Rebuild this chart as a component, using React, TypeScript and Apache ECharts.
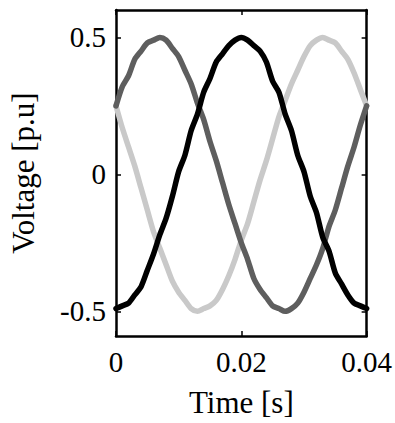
import React, { useEffect, useRef } from "react";
import * as echarts from "echarts";

// Time axis (s), samples every 1 ms
const time: number[] = [
  0, 0.001, 0.002, 0.003, 0.004, 0.005, 0.006, 0.007, 0.008, 0.009,
  0.01, 0.011, 0.012, 0.013, 0.014, 0.015, 0.016, 0.017, 0.018, 0.019,
  0.02, 0.021, 0.022, 0.023, 0.024, 0.025, 0.026, 0.027, 0.028, 0.029,
  0.03, 0.031, 0.032, 0.033, 0.034, 0.035, 0.036, 0.037, 0.038, 0.039, 0.04,
];

// Phase voltages [p.u]
const phaseBlack: number[] = [
  -0.49, -0.48, -0.47, -0.44, -0.41, -0.35, -0.29, -0.22, -0.16, -0.08,
  0.01, 0.07, 0.16, 0.22, 0.30, 0.35, 0.41, 0.44, 0.47, 0.49,
  0.50, 0.49, 0.47, 0.45, 0.41, 0.34, 0.30, 0.22, 0.16, 0.07,
  0.01, -0.08, -0.14, -0.23, -0.28, -0.36, -0.40, -0.44, -0.47, -0.48, -0.49,
];
const phaseDark: number[] = [
  0.25, 0.32, 0.36, 0.42, 0.45, 0.48, 0.49, 0.50, 0.49, 0.46,
  0.43, 0.38, 0.33, 0.26, 0.20, 0.12, 0.05, -0.03, -0.11, -0.18,
  -0.25, -0.31, -0.38, -0.42, -0.45, -0.48, -0.49, -0.50, -0.49, -0.47,
  -0.43, -0.38, -0.33, -0.27, -0.19, -0.13, -0.05, 0.03, 0.10, 0.18, 0.25,
];
const phaseLight: number[] = [
  0.25, 0.17, 0.10, 0.03, -0.05, -0.13, -0.21, -0.27, -0.33, -0.39,
  -0.43, -0.46, -0.49, -0.50, -0.49, -0.48, -0.46, -0.42, -0.37, -0.31,
  -0.24, -0.18, -0.10, -0.02, 0.05, 0.13, 0.21, 0.27, 0.33, 0.38,
  0.43, 0.47, 0.49, 0.50, 0.49, 0.48, 0.45, 0.42, 0.37, 0.31, 0.25,
];

const xTicks: number[] = [0, 0.02, 0.04];
const yTicks: number[] = [-0.5, 0, 0.5];
const yTickLabels: string[] = ["-0.5", "0", "0.5"];

const FONT = "'Liberation Serif', 'DejaVu Serif', serif";

export default function App() {
  const ref = useRef<HTMLDivElement>(null);

  useEffect(() => {
    if (!ref.current) return;
    const chart = echarts.init(ref.current, null, { renderer: "svg" });
    const mk = (vals: number[]) => time.map((t, i) => [t, vals[i]]);
    const boxLine = { show: true, onZero: false, lineStyle: { color: "#000", width: 2.5 } };
    const tick = { show: true, inside: true, length: 5, lineStyle: { color: "#000", width: 1.5 } };
    const line = (color: string) => ({ color, width: 5.5, join: "round", cap: "round" });
    chart.setOption({
      animation: false,
      backgroundColor: "#fff",
      grid: { left: 112, top: 10, right: 28, bottom: 84, containLabel: false },
      xAxis: [
        {
          type: "value",
          min: 0,
          max: 0.04,
          interval: 0.02,
          position: "bottom",
          axisLine: boxLine,
          axisTick: { ...tick, customValues: xTicks },
          axisLabel: {
            customValues: xTicks,
            color: "#000",
            fontFamily: FONT,
            fontSize: 29,
            margin: 11,
            formatter: (v: number) => (v === 0 ? "0" : String(v)),
          },
          splitLine: { show: false },
          name: "Time [s]",
          nameLocation: "middle",
          nameGap: 51,
          nameTextStyle: { color: "#000", fontFamily: FONT, fontSize: 31 },
        },
        {
          type: "value",
          min: 0,
          max: 0.04,
          interval: 0.02,
          position: "top",
          axisLine: boxLine,
          axisTick: { ...tick, customValues: xTicks },
          axisLabel: { show: false },
          splitLine: { show: false },
        },
      ],
      yAxis: [
        {
          type: "value",
          min: -0.59,
          max: 0.6,
          position: "left",
          axisLine: boxLine,
          axisTick: { ...tick, customValues: yTicks },
          axisLabel: {
            customValues: yTicks,
            color: "#000",
            fontFamily: FONT,
            fontSize: 29,
            margin: 10,
            formatter: (v: number) => yTickLabels[yTicks.indexOf(v)] ?? String(v),
          },
          splitLine: { show: false },
          name: "Voltage [p.u]",
          nameLocation: "middle",
          nameGap: 77,
          nameRotate: 90,
          nameTextStyle: { color: "#000", fontFamily: FONT, fontSize: 31 },
        },
        {
          type: "value",
          min: -0.59,
          max: 0.6,
          position: "right",
          axisLine: boxLine,
          axisTick: { ...tick, customValues: yTicks },
          axisLabel: { show: false },
          splitLine: { show: false },
        },
      ],
      series: [
        {
          type: "line",
          data: mk(phaseLight),
          showSymbol: false,
          smooth: 0.25,
          lineStyle: line("#c9c9c9"),
          z: 2,
        },
        {
          type: "line",
          data: mk(phaseDark),
          showSymbol: false,
          smooth: 0.25,
          lineStyle: line("#5e5e5e"),
          z: 3,
        },
        {
          type: "line",
          data: mk(phaseBlack),
          showSymbol: false,
          smooth: 0.25,
          lineStyle: line("#000000"),
          z: 4,
        },
      ],
    });
    return () => chart.dispose();
  }, []);

  return (
    <div
      ref={ref}
      style={{ position: "absolute", left: 0, top: 0, width: 395, height: 423 }}
    />
  );
}
